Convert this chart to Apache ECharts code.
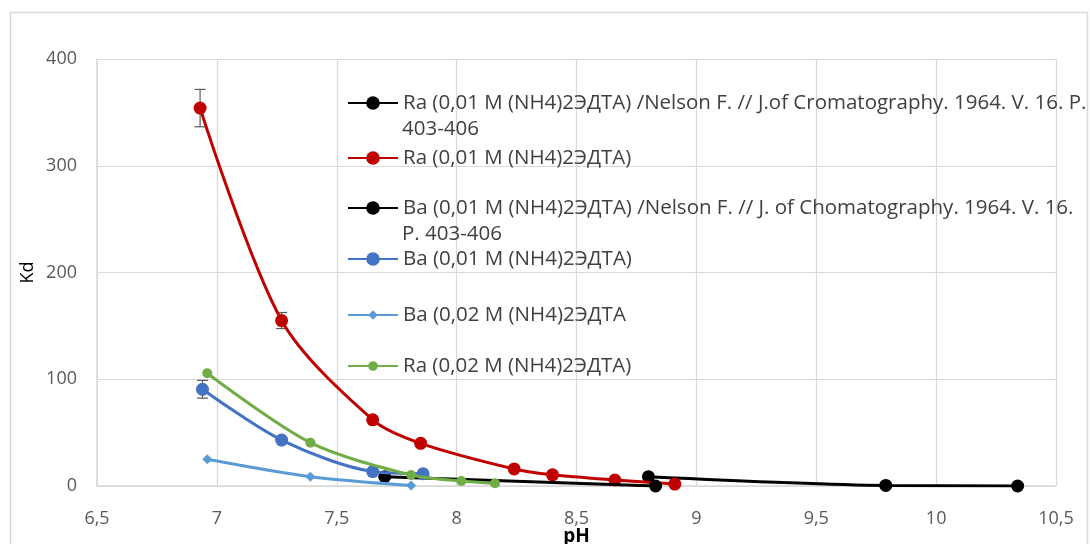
<!DOCTYPE html>
<html>
<head>
<meta charset="utf-8">
<script src="https://cdn.jsdelivr.net/npm/echarts@6/dist/echarts.min.js"></script>
<style>html,body{margin:0;padding:0;background:#fff}#c{width:1090px;height:544px}</style>
</head>
<body>
<div id="c"></div>
<script>
// ---- data ----
const seriesNames = [
  'Ra (0,01 M (NH4)2ЭДТА) /Nelson F. // J.of Cromatography. 1964. V. 16. P.\n403-406',
  'Ra (0,01 M (NH4)2ЭДТА)',
  'Ba (0,01 M (NH4)2ЭДТА) /Nelson F. // J. of Chomatography. 1964. V. 16.\nP. 403-406',
  'Ba (0,01 M (NH4)2ЭДТА)',
  'Ba (0,02 M (NH4)2ЭДТА',
  'Ra (0,02 M (NH4)2ЭДТА)'
];
const raNelsonPH = [8.80, 9.79, 10.34];
const raNelsonKd = [8.7, 0.5, 0];
const ra01PH = [6.93, 7.27, 7.65, 7.85, 8.24, 8.40, 8.66, 8.91];
const ra01Kd = [354, 155, 62, 40, 16, 10.5, 5.6, 1.8];
const ra01Err = [17.5, 7.5, 0, 0, 0, 0, 0, 0];
const baNelsonPH = [7.70, 8.83];
const baNelsonKd = [8.7, 0];
const ba01PH = [6.94, 7.27, 7.65, 7.86];
const ba01Kd = [90.6, 43, 13.5, 11.5];
const ba01Err = [8.3, 0, 0, 0];
const ba02PH = [6.96, 7.39, 7.81];
const ba02Kd = [25, 8.7, 0.5];
const ra02PH = [6.96, 7.39, 7.81, 8.02, 8.16];
const ra02Kd = [105.6, 40.6, 10.3, 4.7, 2.5];
const xTicks = { min: 6.5, max: 10.5, step: 0.5 };
const yTicks = { min: 0, max: 400, step: 100 };

// ---- build ----
const pairs = (xs, ys) => xs.map((x, i) => [x, ys[i]]);
const colors = ['#000000', '#C00000', '#000000', '#4472C4', '#5B9BD5', '#70AD47'];
const symbols = ['circle', 'circle', 'circle', 'circle', 'diamond', 'circle'];
const symSizes = [13, 13, 13, 13, 10, 10];
const datasets = [
  pairs(raNelsonPH, raNelsonKd),
  pairs(ra01PH, ra01Kd),
  pairs(baNelsonPH, baNelsonKd),
  pairs(ba01PH, ba01Kd),
  pairs(ba02PH, ba02Kd),
  pairs(ra02PH, ra02Kd)
];
const FONT = '"Open Sans", "Noto Sans", sans-serif';

const errData = [];
ra01PH.forEach((x, i) => { if (ra01Err[i] > 0) errData.push([x, ra01Kd[i] - ra01Err[i], ra01Kd[i] + ra01Err[i]]); });
ba01PH.forEach((x, i) => { if (ba01Err[i] > 0) errData.push([x, ba01Kd[i] - ba01Err[i], ba01Kd[i] + ba01Err[i]]); });

const series = seriesNames.map((name, i) => ({
  name: name,
  type: 'line',
  data: datasets[i],
  smooth: 0.3,
  symbol: symbols[i],
  symbolSize: symSizes[i],
  showSymbol: true,
  lineStyle: { color: colors[i], width: 3 },
  itemStyle: { color: colors[i], borderWidth: 0 },
  z: 3 + i
}));
series.push({
  type: 'custom',
  name: 'err',
  data: errData,
  z: 2,
  renderItem: function (params, api) {
    const x = api.value(0);
    const lo = api.coord([x, api.value(1)]);
    const hi = api.coord([x, api.value(2)]);
    const w = 5.5;
    const st = { stroke: '#595959', lineWidth: 1.2 };
    return {
      type: 'group',
      children: [
        { type: 'line', shape: { x1: lo[0], y1: lo[1], x2: hi[0], y2: hi[1] }, style: st },
        { type: 'line', shape: { x1: lo[0] - w, y1: lo[1], x2: lo[0] + w, y2: lo[1] }, style: st },
        { type: 'line', shape: { x1: hi[0] - w, y1: hi[1], x2: hi[0] + w, y2: hi[1] }, style: st }
      ]
    };
  }
});

const legendTops = [103, 158, 208, 259, 315, 366];
const legends = seriesNames.map((name, i) => ({
  data: [name],
  left: 347,
  top: legendTops[i] - 12,
  orient: 'vertical',
  padding: 0,
  itemWidth: 50,
  itemHeight: i >= 4 ? 12 : 17,
  itemGap: 0,
  selectedMode: false,
  formatter: n => n.split('\n')[0],
  textStyle: { fontFamily: FONT, fontSize: 20.5, color: '#404040', lineHeight: 24 }
}));

const graphics = [
  { type: 'rect', shape: { x: 10.5, y: 12.5, width: 1077, height: 560 }, style: { fill: 'none', stroke: '#D9D9D9', lineWidth: 1.5 }, silent: true }
];
seriesNames.forEach((name, i) => {
  const parts = name.split('\n');
  if (parts.length > 1) {
    graphics.push({ type: 'text', left: 402, top: legendTops[i] + 28 - 12, style: { text: parts[1], font: '20.5px ' + FONT, fill: '#404040' }, z: 100 });
  }
});

const chart = echarts.init(document.getElementById('c'), null, { renderer: 'canvas' });
chart.setOption({
  animation: false,
  backgroundColor: '#fff',
  grid: { left: 97, right: 34, top: 59, bottom: 58, containLabel: false, outerBoundsMode: 'none' },
  xAxis: {
    type: 'value', min: xTicks.min, max: xTicks.max, interval: xTicks.step,
    name: 'pH', nameLocation: 'middle', nameGap: 41, nameMoveOverlap: false,
    nameTextStyle: { fontFamily: FONT, fontSize: 19, fontWeight: 'bold', color: '#000' },
    axisLine: { show: true, lineStyle: { color: '#D9D9D9', width: 1.5 } },
    axisTick: { show: false },
    splitLine: { show: true, lineStyle: { color: '#D9D9D9', width: 1.2 } },
    axisLabel: { fontFamily: FONT, fontSize: 18, color: '#595959', margin: 24, formatter: v => String(v).replace('.', ',') }
  },
  yAxis: {
    type: 'value', min: yTicks.min, max: yTicks.max, interval: yTicks.step,
    name: 'Kd', nameLocation: 'middle', nameGap: 60, nameRotate: 90, nameMoveOverlap: false,
    nameTextStyle: { fontFamily: FONT, fontSize: 18, color: '#000' },
    axisLine: { show: true, lineStyle: { color: '#D9D9D9', width: 1.5 } },
    axisTick: { show: false },
    splitLine: { show: true, lineStyle: { color: '#D9D9D9', width: 1.2 } },
    axisLabel: { fontFamily: FONT, fontSize: 18, color: '#595959', margin: 20 }
  },
  legend: legends,
  graphic: graphics,
  series: series
});
</script>
</body>
</html>
